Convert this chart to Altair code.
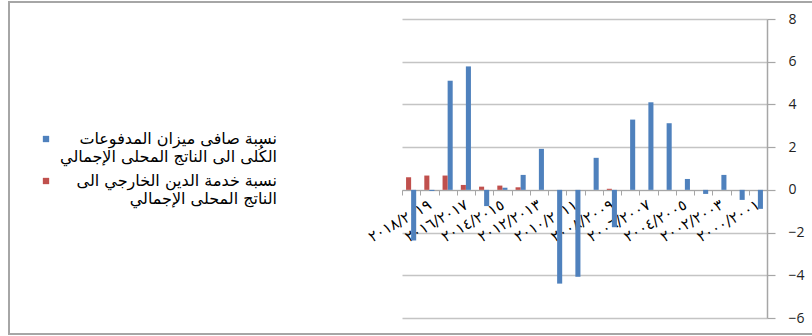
import altair as alt
import pandas as pd

# Fiscal years, in display order (right-to-left chronology)
years = [
    "٢٠١٩/٢٠٢٠", "٢٠١٨/٢٠١٩", "٢٠١٧/٢٠١٨", "٢٠١٦/٢٠١٧", "٢٠١٥/٢٠١٦",
    "٢٠١٤/٢٠١٥", "٢٠١٣/٢٠١٤", "٢٠١٢/٢٠١٣", "٢٠١١/٢٠١٢", "٢٠١٠/٢٠١١",
    "٢٠٠٩/٢٠١٠", "٢٠٠٨/٢٠٠٩", "٢٠٠٧/٢٠٠٨", "٢٠٠٦/٢٠٠٧", "٢٠٠٥/٢٠٠٦",
    "٢٠٠٤/٢٠٠٥", "٢٠٠٣/٢٠٠٤", "٢٠٠٢/٢٠٠٣", "٢٠٠١/٢٠٠٢", "٢٠٠٠/٢٠٠١",
]

# Overall balance of payments as % of GDP
balance = [-2.37, -0.05, 5.11, 5.78, -0.76, 0.10, 0.70, 1.92, -4.39, -4.07,
           1.50, -1.75, 3.29, 4.10, 3.12, 0.51, -0.19, 0.70, -0.47, -0.89]

# External debt service as % of GDP
debt_service = [0.59, 0.67, 0.67, 0.23, 0.15, 0.20, 0.12, 0.0, 0.0, 0.0,
                0.0, 0.05, 0.0, 0.0, 0.0, 0.0, 0.0, 0.0, 0.0, 0.0]

s_balance = "نسبة صافى ميزان المدفوعات\nالكُلى الى الناتج المحلى الإجمالي"
s_debt = "نسبة خدمة الدين الخارجي الى\nالناتج المحلى الإجمالي"

y_ticks = [-6, -4, -2, 0, 2, 4, 6, 8]
shown_labels = years[1::2]

rows = []
for yr, b, d in zip(years, balance, debt_service):
    rows.append({"year": yr, "series": s_balance, "value": b})
    rows.append({"year": yr, "series": s_debt, "value": d})
df = pd.DataFrame(rows)

label_expr = "indexof(" + str(shown_labels).replace('"', "'") + ", datum.value) >= 0 ? datum.value : ''"

bars = alt.Chart(df).mark_bar().encode(
    x=alt.X(
        "year:N",
        sort=years,
        scale=alt.Scale(paddingInner=0, paddingOuter=0),
        axis=alt.Axis(
            title=None,
            orient="bottom",
            offset=-128,
            domainColor="#a6a6a6",
            domainWidth=1.2,
            tickColor="#a6a6a6",
            tickSize=5,
            tickBand="extent",
            labelAngle=330,
            labelAlign="right",
            labelBaseline="middle",
            labelPadding=8,
            labelFont="DejaVu Sans",
            labelFontSize=15,
            labelColor="#000000",
            labelExpr=label_expr,
            labelOverlap=False,
            grid=False,
        ),
    ),
    xOffset=alt.XOffset(
        "series:N",
        sort=[s_debt, s_balance],
        scale=alt.Scale(paddingInner=0, paddingOuter=0.8),
    ),
    y=alt.Y(
        "value:Q",
        scale=alt.Scale(domain=[-6, 8], nice=False, zero=False),
        axis=alt.Axis(
            title=None,
            orient="right",
            values=y_ticks,
            domainColor="#a6a6a6",
            domainWidth=1.5,
            tickColor="#a6a6a6",
            tickSize=8,
            tickWidth=1.2,
            labelPadding=13,
            labelAlign="left",
            labelFont="Open Sans",
            labelFontSize=14,
            labelColor="#222222",
            gridColor="#c4c4c4",
            gridWidth=1.5,
        ),
    ),
    color=alt.Color(
        "series:N",
        scale=alt.Scale(domain=[s_balance, s_debt], range=["#4f81bd", "#c0504d"]),
        legend=alt.Legend(
            title=None,
            orient="none",
            legendX=-364,
            legendY=112,
            direction="vertical",
            symbolType="square",
            symbolSize=40,
            symbolStrokeWidth=0,
            labelFont="DejaVu Sans",
            labelFontSize=16,
            labelColor="#000000",
            labelAlign="right",
            labelBaseline="middle",
            labelOffset=223,
            labelLimit=400,
            labelExpr="split(datum.label, '\\n')",
            rowPadding=8,
            padding=0,
        ),
    ),
)

frame = alt.Chart(alt.Data(values=[{"f": 1}])).mark_rect(
    filled=False, stroke="#a6a6a6", strokeWidth=2
).encode(
    x=alt.value(-393), x2=alt.value(420), y=alt.value(-17), y2=alt.value(315)
)

chart = alt.layer(frame, bars).properties(
    width=365,
    height=299,
    autosize=alt.AutoSizeParams(type="none"),
    padding={"left": 402, "top": 19, "right": 45, "bottom": 18},
).configure_view(stroke=None)

chart.save("out.html", embed_options={"renderer": "svg", "actions": False})
